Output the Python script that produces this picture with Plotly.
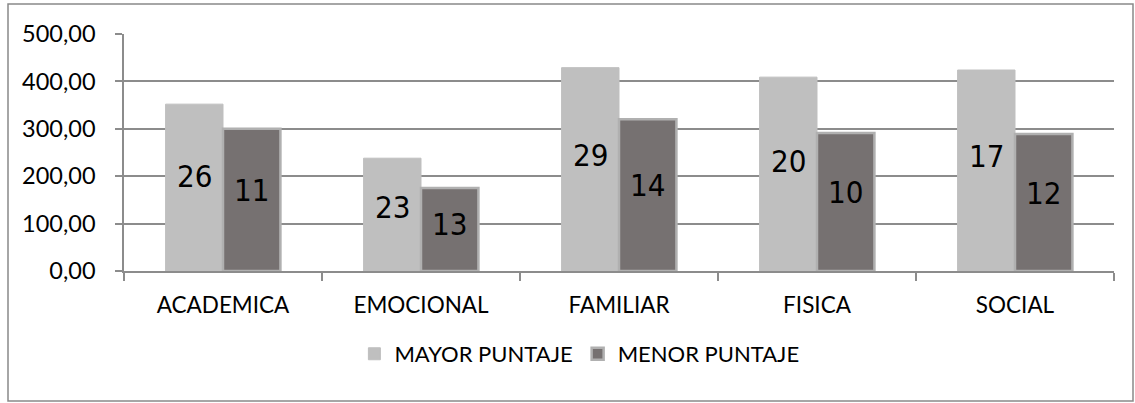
import plotly.graph_objects as go

# Data
categories = ["ACADEMICA", "EMOCIONAL", "FAMILIAR", "FISICA", "SOCIAL"]
mayor_puntaje = [352, 238, 429, 409, 424]
menor_puntaje = [300, 175, 320, 291, 289]
mayor_labels = ["26", "23", "29", "20", "17"]
menor_labels = ["11", "13", "14", "10", "12"]
y_ticks = [0, 100, 200, 300, 400, 500]

LIGHT = "#BFBFBF"
DARK = "#767171"
GRID = "#8C8C8C"
FONT = "Lato, Open Sans, sans-serif"
NUM_FONT = "Liberation Sans Narrow, DejaVu Sans Condensed, Arial Narrow, Lato, sans-serif"

fig = go.Figure()
fig.add_trace(go.Bar(
    x=categories, y=mayor_puntaje, name="MAYOR PUNTAJE",
    marker=dict(color=LIGHT, line=dict(color=LIGHT, width=1)),
))
fig.add_trace(go.Bar(
    x=categories, y=menor_puntaje, name="MENOR PUNTAJE",
    marker=dict(color=DARK, line=dict(color="#B0B0B0", width=2.5)),
))

# Count labels inside each bar
W, H = 1135, 403
L, R, T, B = 124, 21, 34, 132
plot_w = W - L - R
cat_w = plot_w / len(categories)
bargap = 0.42
half_bar = cat_w * (1 - bargap) / 4

annotations = []
for cat, v, lab in zip(categories, mayor_puntaje, mayor_labels):
    annotations.append(dict(x=cat, y=v * 0.57, text=lab, showarrow=False,
                            xshift=-half_bar, font=dict(family=NUM_FONT, size=31, color="black")))
for cat, v, lab in zip(categories, menor_puntaje, menor_labels):
    annotations.append(dict(x=cat, y=v * 0.57, text=lab, showarrow=False,
                            xshift=half_bar, font=dict(family=NUM_FONT, size=31, color="black")))

plot_h = H - T - B
# Outer chart frame
frame = dict(
    type="rect", xref="paper", yref="paper",
    x0=(8 - L) / plot_w, x1=(1133 - L) / plot_w,
    y0=-(401 - (T + plot_h)) / plot_h, y1=(T + plot_h - 4) / plot_h,
    line=dict(color="#898989", width=1.5), fillcolor="rgba(0,0,0,0)", layer="below",
)

fig.update_layout(
    width=W, height=H,
    margin=dict(l=L, r=R, t=T, b=B),
    paper_bgcolor="white", plot_bgcolor="white",
    barmode="group", bargap=bargap, bargroupgap=0,
    separators=",.",
    font=dict(family=FONT, size=23, color="black"),
    showlegend=True,
    legend=dict(orientation="h", x=0.46, xanchor="center", y=-0.35, yanchor="middle",
                font=dict(family=FONT, size=22), itemwidth=30, traceorder="normal"),
    annotations=annotations,
    shapes=[frame],
)
fig.update_xaxes(
    showline=True, linecolor=GRID, linewidth=2,
    ticks="outside", tickson="boundaries", ticklen=8, tickcolor=GRID, tickwidth=1.5,
    showgrid=False, tickfont=dict(family=FONT, size=22.5), ticklabelstandoff=13,
)
fig.update_yaxes(
    range=[0, 500], tickvals=y_ticks, tickformat=".2f",
    showgrid=True, gridcolor=GRID, gridwidth=2,
    showline=True, linecolor=GRID, linewidth=1.5,
    ticks="outside", ticklen=7, tickcolor=GRID, tickwidth=2,
    zeroline=False, tickfont=dict(family=FONT, size=23.5), ticklabelstandoff=15,
)

fig.write_html("out.html")
